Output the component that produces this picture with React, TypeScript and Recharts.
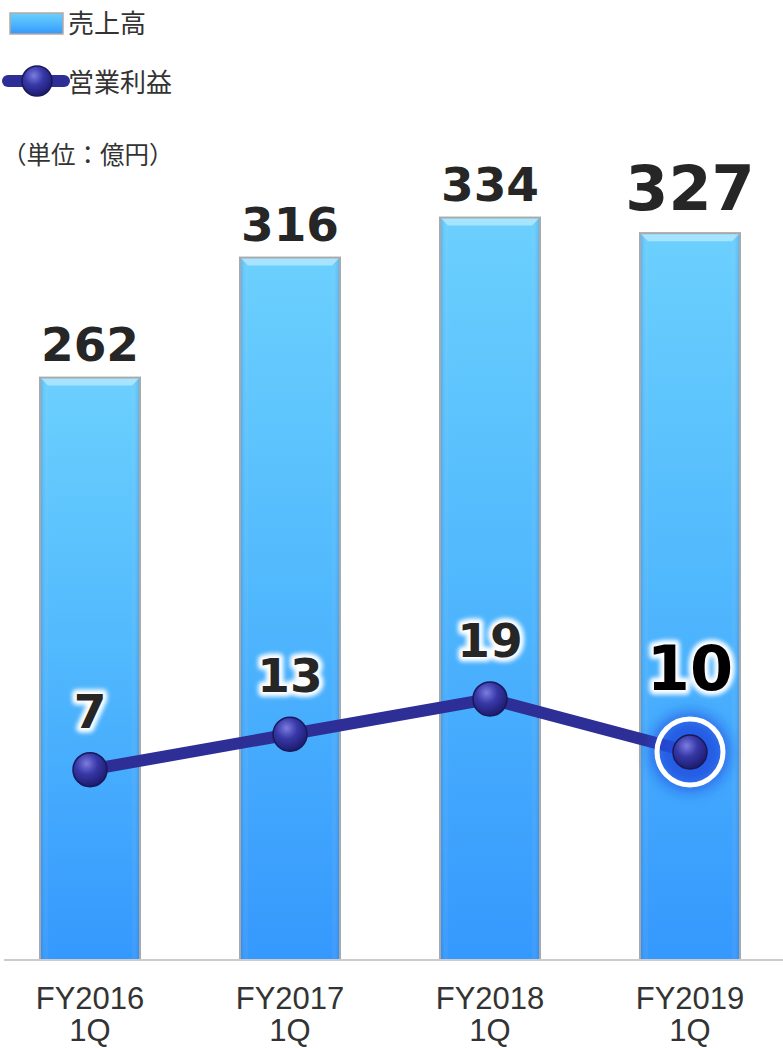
import { Bar, ComposedChart, LabelList, Line, XAxis, YAxis } from "recharts";

const fiscalYears = ["FY2016", "FY2017", "FY2018", "FY2019"];
const quarters = ["1Q", "1Q", "1Q", "1Q"];
const sales = [262, 316, 334, 327];
const operatingProfit = [7, 13, 19, 10];
const highlightIndex = 3;

const data = fiscalYears.map((fy, i) => ({
  fy,
  quarter: quarters[i],
  sales: sales[i],
  profit: operatingProfit[i],
}));

const lineColor = "#2e2f96";
const labelFont = "'DejaVu Sans', Verdana, sans-serif";
const jpFont = "'Noto Sans CJK JP', sans-serif";

function Defs() {
  return (
    <svg width={0} height={0} style={{ position: "absolute" }}>
      <defs>
        <linearGradient id="barGrad" x1="0" y1="0" x2="0" y2="1">
          <stop offset="0%" stopColor="#6bd0fd" />
          <stop offset="45%" stopColor="#52bafd" />
          <stop offset="100%" stopColor="#3598fd" />
        </linearGradient>
        <linearGradient id="barSide" x1="0" y1="0" x2="1" y2="0">
          <stop offset="0%" stopColor="#1d6fd0" stopOpacity={0.25} />
          <stop offset="8%" stopColor="#ffffff" stopOpacity={0} />
          <stop offset="92%" stopColor="#ffffff" stopOpacity={0} />
          <stop offset="100%" stopColor="#1d6fd0" stopOpacity={0.25} />
        </linearGradient>
        <radialGradient id="sphere" cx="40%" cy="32%" r="70%">
          <stop offset="0%" stopColor="#7c7ce0" />
          <stop offset="45%" stopColor="#3838a8" />
          <stop offset="100%" stopColor="#1b1b6c" />
        </radialGradient>
        <radialGradient id="glowFill" cx="50%" cy="50%" r="50%">
          <stop offset="55%" stopColor="#1f4fe0" stopOpacity={0.85} />
          <stop offset="100%" stopColor="#1f4fe0" stopOpacity={0} />
        </radialGradient>
        <filter id="glow" x="-50%" y="-50%" width="200%" height="200%">
          <feGaussianBlur stdDeviation="4" />
        </filter>
        <filter id="halo" x="-30%" y="-30%" width="160%" height="160%">
          <feGaussianBlur stdDeviation="2" />
        </filter>
      </defs>
    </svg>
  );
}

function GlossBar(props: any) {
  const { x, y, width, height } = props;
  return (
    <g>
      <rect x={x} y={y} width={width} height={height} fill="url(#barGrad)" stroke="#a9a9a9" strokeWidth={2} />
      <rect x={x + 1} y={y + 1} width={width - 2} height={height - 2} fill="url(#barSide)" />
      <polygon
        points={`${x + 1},${y + 1} ${x + width - 1},${y + 1} ${x + width - 8},${y + 8} ${x + 8},${y + 8}`}
        fill="#d8f4ff"
        opacity={0.55}
      />
    </g>
  );
}

function SphereDot(props: any) {
  const { cx, cy, index } = props;
  if (cx == null || cy == null) return <g key={index} />;
  return (
    <g key={index}>
      {index === highlightIndex && (
        <>
          <circle cx={cx} cy={cy} r={48} fill="url(#glowFill)" filter="url(#glow)" />
          <circle cx={cx} cy={cy} r={33} fill="none" stroke="#ffffff" strokeWidth={5} />
        </>
      )}
      <circle cx={cx} cy={cy} r={17} fill="url(#sphere)" stroke="#18185a" strokeWidth={1.5} />
    </g>
  );
}

function SalesLabel(props: any) {
  const { x, y, width, value, index } = props;
  const big = index === highlightIndex;
  return (
    <text
      x={x + width / 2}
      y={y - (big ? 23 : 17)}
      textAnchor="middle"
      fontFamily={labelFont}
      fontWeight="bold"
      fontSize={big ? 62 : 47}
      fill="#262626"
    >
      {value}
    </text>
  );
}

function ProfitLabel(props: any) {
  const { x, y, value, index } = props;
  const big = index === highlightIndex;
  const ty = y - (big ? 62 : 42);
  const common = {
    x,
    y: ty,
    textAnchor: "middle" as const,
    fontFamily: labelFont,
    fontWeight: "bold",
    fontSize: big ? 62 : 47,
  };
  return (
    <g>
      <text {...common} fill="#ffffff" stroke="#ffffff" strokeWidth={9} strokeLinejoin="round" filter="url(#halo)">
        {value}
      </text>
      <text {...common} fill={big ? "#000000" : "#262626"}>
        {value}
      </text>
    </g>
  );
}

function PeriodTick(props: any) {
  const { x, y, payload, index } = props;
  return (
    <g>
      <text x={x} y={y + 49} textAnchor="middle" fontFamily="'Liberation Sans', Arial, sans-serif" fontSize={31} fill="#333333">
        {payload.value}
      </text>
      <text x={x} y={y + 81} textAnchor="middle" fontFamily="'Liberation Sans', Arial, sans-serif" fontSize={31} fill="#333333">
        {quarters[index]}
      </text>
    </g>
  );
}

function LegendOverlay() {
  return (
    <svg width={300} height={180} style={{ position: "absolute", left: 0, top: 0 }}>
      <rect x={10} y={13} width={53} height={21} fill="url(#barGrad)" stroke="#b5a9a0" strokeWidth={1.5} />
      <text x={68} y={21} dominantBaseline="central" fontFamily={jpFont} fontSize={26} fill="#333333">
        売上高
      </text>
      <line x1={8} y1={81} x2={64} y2={81} stroke={lineColor} strokeWidth={12} strokeLinecap="round" />
      <circle cx={37} cy={81} r={15} fill="url(#sphere)" stroke="#18185a" strokeWidth={1.5} />
      <text x={68} y={80} dominantBaseline="central" fontFamily={jpFont} fontSize={26} fill="#333333">
        営業利益
      </text>
      <text x={2} y={153} dominantBaseline="central" fontFamily={jpFont} fontSize={24.5} fill="#333333">
        （単位：億円）
      </text>
    </svg>
  );
}

export default function App() {
  return (
    <div style={{ position: "absolute", left: 0, top: 0, width: 783, height: 1048, background: "#ffffff" }}>
      <Defs />
      <ComposedChart width={783} height={1048} data={data} margin={{ top: 182, right: 0, bottom: 0, left: 4 }}>
        <XAxis
          dataKey="fy"
          height={88}
          padding={{ left: -14, right: -7 }}
          tickLine={false}
          tickSize={0}
          tickMargin={0}
          axisLine={{ stroke: "#cccccc", strokeWidth: 2 }}
          tick={<PeriodTick />}
          interval={0}
        />
        <YAxis yAxisId="sales" hide domain={[0, 350]} />
        <YAxis yAxisId="profit" hide orientation="right" domain={[-25.3, 106.7]} />
        <Bar yAxisId="sales" dataKey="sales" barSize={100} shape={<GlossBar />} isAnimationActive={false}>
          <LabelList dataKey="sales" content={<SalesLabel />} />
        </Bar>
        <Line
          yAxisId="profit"
          dataKey="profit"
          stroke={lineColor}
          strokeWidth={12}
          dot={(p: any) => <SphereDot key={p.index} {...p} />}
          activeDot={false}
          isAnimationActive={false}
        >
          <LabelList dataKey="profit" content={<ProfitLabel />} />
        </Line>
      </ComposedChart>
      <LegendOverlay />
    </div>
  );
}
